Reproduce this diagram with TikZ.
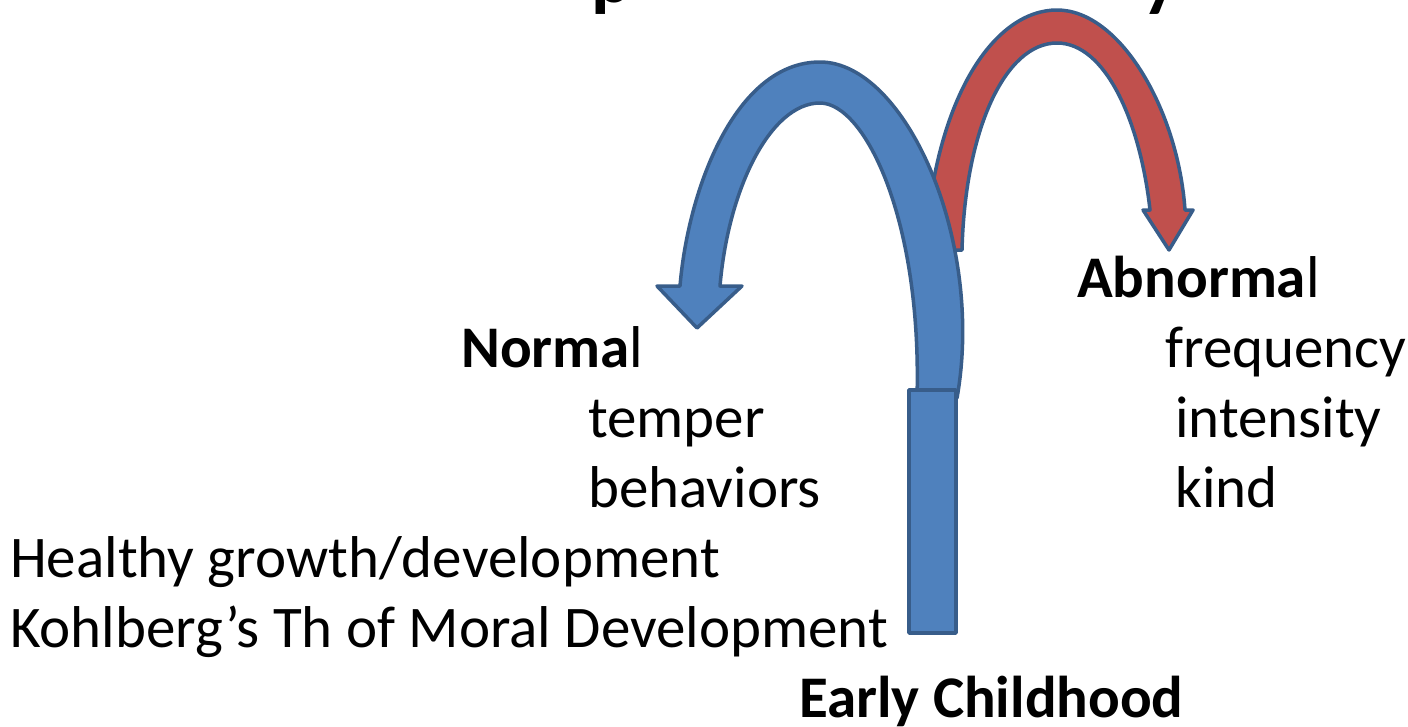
\documentclass[tikz,border=0pt]{standalone}
\usepackage{fontspec}
\setmainfont{Carlito}
\usepackage{tikz}

\definecolor{arrowblue}{HTML}{4F81BD}
\definecolor{arrowred}{HTML}{C0504D}
\definecolor{edgeblue}{HTML}{385D8A}

\begin{document}
\begin{tikzpicture}[x=1pt,y=-1pt,
                    bluearrow/.style={fill=arrowblue,draw=edgeblue,line width=3.5pt,line join=round},
                    redarrow/.style={fill=arrowred,draw=edgeblue,line width=3.5pt,line join=round},
                    label/.style={anchor=base west,inner sep=0pt,font=\fontsize{59}{70}\selectfont},
                    title/.style={anchor=base west,inner sep=0pt,font=\fontsize{76}{90}\selectfont\bfseries}]
  \useasboundingbox (0,0) rectangle (1408,726);

  % title, mostly above the page
  \node[title] (titlep) at (591,2)  {p};
  \node[title] (titley) at (1142,2) {y};

  % abnormal path (behind)
  \draw[redarrow] (925,250) .. controls (935,95) and (995,10) .. (1057,10)
                  .. controls (1120,10) and (1178,110) .. (1185,210)
                  -- (1193,210) -- (1169,250) -- (1143,210) -- (1150,210)
                  .. controls (1140,120) and (1105,43) .. (1057,43)
                  .. controls (1005,43) and (965,130) .. (962,250) -- cycle;

  % normal path
  \draw[bluearrow] (957,398) .. controls (985,240) and (905,62) .. (820,62)
                   .. controls (735,62) and (688,190) .. (680,286)
                   -- (657,286) -- (697,328) -- (742,286) -- (720,286)
                   .. controls (728,190) and (770,103) .. (820,103)
                   .. controls (865,103) and (922,220) .. (917,398) -- cycle;
  \draw[bluearrow] (909,390) rectangle (956,633);

  \node[label] (normal)   at (461,367)  {\textbf{Norma}l};
  \node[label] (temper)   at (588,437)  {temper};
  \node[label] (behav)    at (588,507)  {behaviors};
  \node[label] (healthy)  at (10,577)   {Healthy growth/development};
  \node[label] (kohlberg) at (10,647)   {Kohlberg’s Th of Moral Development};
  \node[label] (early)    at (799,717)  {\textbf{Early Childhood}};

  \node[label] (abnormal) at (1077,297) {\textbf{Abnorma}l};
  \node[label] (freq)     at (1165,367) {frequency};
  \node[label] (intens)   at (1175,437) {intensity};
  \node[label] (kind)     at (1175,507) {kind};
\end{tikzpicture}
\end{document}
